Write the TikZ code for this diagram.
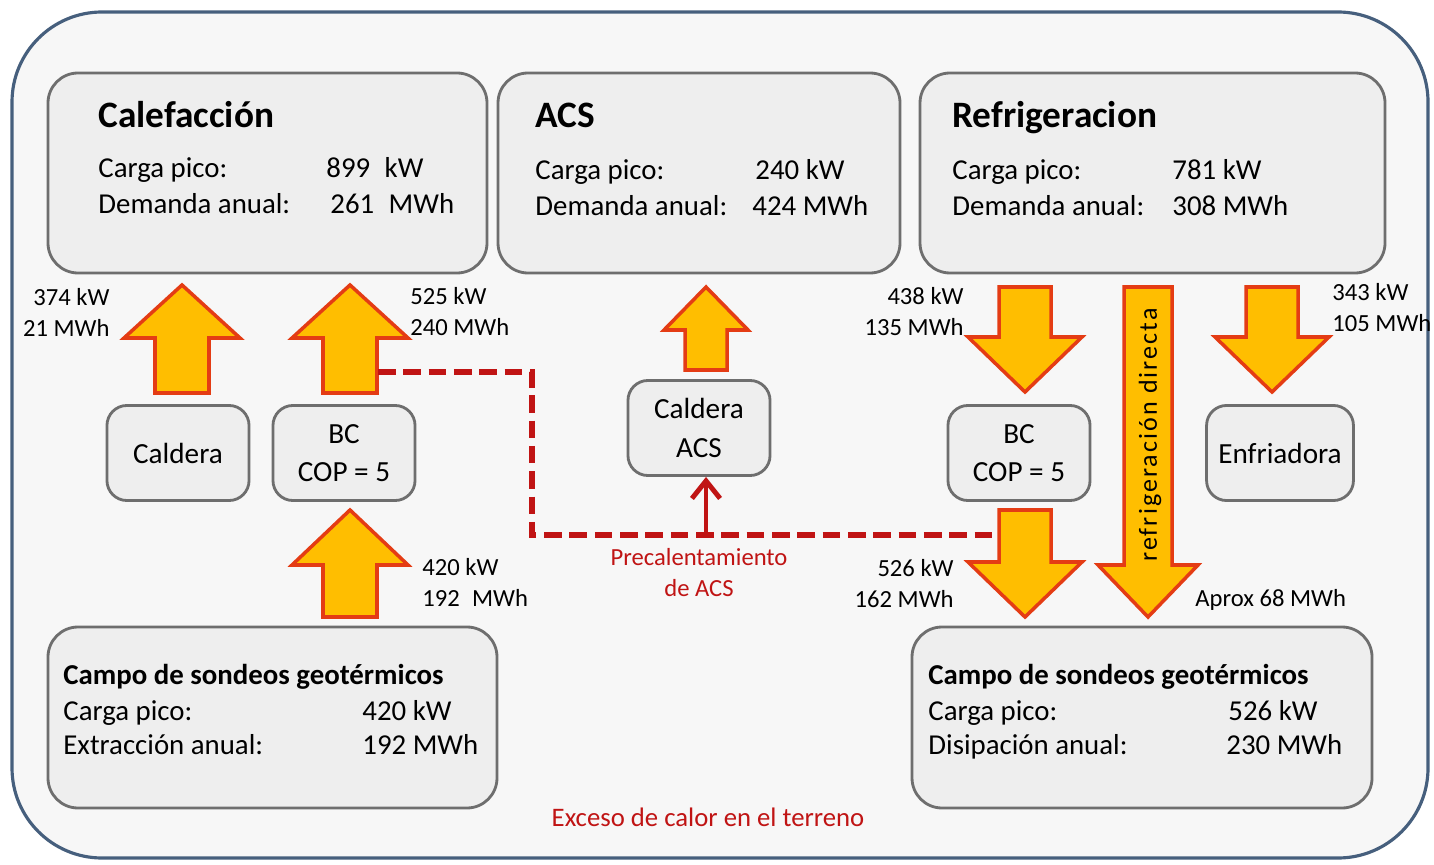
\documentclass[tikz,border=0pt]{standalone}
\usepackage{fontspec}
\setmainfont{Carlito}
\usepackage{tikz}
\usetikzlibrary{arrows.meta,calc}

\definecolor{frameblue}{RGB}{70,95,125}
\definecolor{boxgray}{RGB}{238,238,238}
\definecolor{boxline}{RGB}{110,110,110}
\definecolor{flowfill}{RGB}{255,190,0}
\definecolor{flowline}{RGB}{228,60,20}
\definecolor{darkred}{RGB}{192,20,20}

\tikzset{
  panel/.style={draw=boxline,fill=boxgray,line width=0.8pt,rounded corners=0.3cm},
  unit/.style={draw=boxline,fill=boxgray,line width=0.8pt,rounded corners=0.2cm,
    minimum width=1.42cm,minimum height=0.95cm,align=center,font=\fontsize{8.3}{11}\selectfont},
  flow/.style={draw=flowline,fill=flowfill,line width=1pt,line join=miter},
  title/.style={anchor=west,text height=0.75em,text depth=0.25em,font=\fontsize{10.6}{12}\selectfont\bfseries},
  subtitle/.style={anchor=west,text height=0.75em,text depth=0.25em,font=\fontsize{8.2}{10}\selectfont\bfseries},
  row/.style={anchor=west,text height=0.75em,text depth=0.25em,font=\fontsize{8.2}{10}\selectfont},
  lbl/.style={font=\fontsize{7}{8.8}\selectfont,align=left},
  redtxt/.style={text=darkred,align=center},
  pre/.style={draw=darkred,line width=1.6pt,dash pattern=on 5pt off 2.2pt}
}

% block arrow: x, tail y, head base y, tip y, shaft half width, head half width
\newcommand{\blockarrow}[6]{%
  \draw[flow] ({#1-#5},#2) -- ({#1-#5},#3) -- ({#1-#6},#3) -- (#1,#4)
    -- ({#1+#6},#3) -- ({#1+#5},#3) -- ({#1+#5},#2) -- cycle;}

\begin{document}
\begin{tikzpicture}[x=0.01cm,y=-0.01cm]
		\useasboundingbox (0,0) rectangle (1434,864);
		% Frame
		\draw[draw=frameblue,fill=black!3,line width=0.9pt,rounded corners=0.9cm] (12,12) rectangle (1428,858);

		% Demand panels
		\draw[panel] (48,73) rectangle (487,273);
		\node[title] (calef) at (86,119) {Calefacción};
		\node[row] at (86,169) {Carga pico:};
		\node[row] at (314,169) {899\enspace kW};
		\node[row] at (86,205) {Demanda anual:};
		\node[row] at (318,205) {261\enspace MWh};

		\draw[panel] (498,73) rectangle (900,273);
		\node[title] (acs) at (523,119) {ACS};
		\node[row] at (523,171) {Carga pico:};
		\node[row] at (743,171) {240 kW};
		\node[row] at (523,207) {Demanda anual:};
		\node[row] at (740,207) {424 MWh};

		\draw[panel] (920,73) rectangle (1385,273);
		\node[title] (refri) at (940,119) {Refrigeracion};
		\node[row] at (940,171) {Carga pico:};
		\node[row] at (1160,171) {781 kW};
		\node[row] at (940,207) {Demanda anual:};
		\node[row] at (1160,207) {308 MWh};

		% Ground fields
		\draw[panel] (48,627) rectangle (497,808);
		\node[subtitle] (campoA) at (51,676) {Campo de sondeos geotérmicos};
		\node[row] at (51,712) {Carga pico:};
		\node[row] at (350,712) {420 kW};
		\node[row] at (51,746) {Extracción anual:};
		\node[row] at (350,746) {192 MWh};

		\draw[panel] (912,627) rectangle (1372,808);
		\node[subtitle] (campoB) at (916,676) {Campo de sondeos geotérmicos};
		\node[row] at (916,712) {Carga pico:};
		\node[row] at (1216,712) {526 kW};
		\node[row] at (916,746) {Disipación anual:};
		\node[row] at (1214,746) {230 MWh};

		% Plant
		\node[unit] (caldera) at (178,453) {Caldera};
		\node[unit] (bcA) at (344,453) {BC\\COP = 5};
		\node[unit] (caldacs) at (699,428) {Caldera\\ACS};
		\node[unit] (bcB) at (1019,453) {BC\\COP = 5};
		\node[unit] (enfri) at (1280,453) {Enfriadora};

		% Heat flows
		\blockarrow{182}{393}{338}{285}{27}{58}
		\blockarrow{350}{393}{338}{285}{27}{58}
		\blockarrow{350}{617}{565}{510}{27}{58}
		\blockarrow{706}{370}{330}{287}{21}{42}
		\blockarrow{1025}{287}{337}{392}{26}{57}
		\blockarrow{1272}{287}{337}{392}{26}{57}
		\blockarrow{1025}{510}{562}{617}{26}{57}
		\blockarrow{1148}{287}{565}{617}{24}{50}
		\node[rotate=90,font=\fontsize{7.4}{9}\selectfont\addfontfeature{LetterSpace=8}] (directa) at (1150,435) {refrigeración directa};

		\node[lbl,anchor=east,align=right] at (122,312) {374 kW\\21 MWh};
		\node[lbl,anchor=west] at (398,312) {525 kW\\240 MWh};
		\node[lbl,anchor=west] at (410,582) {420 kW\\192\enspace MWh};
		\node[lbl,anchor=east,align=right] at (976,312) {438 kW\\135 MWh};
		\node[lbl,anchor=west] at (1320,308) {343 kW\\105 MWh};
		\node[lbl,anchor=east,align=right] at (966,584) {526 kW\\162 MWh};
		\node[lbl,anchor=west] at (1183,600) {Aprox 68 MWh};

		% Preheating of ACS
		\coordinate (outA) at (378,372);
		\coordinate (inB) at (998,535);
		\coordinate (tap) at (706,535);
		\draw[pre] (outA) -- (532,372) -- (532,535) -- (inB);
		\draw[darkred,line width=1.4pt,-{Straight Barb[length=5pt,width=8pt]}] (tap) -- (tap |- caldacs.south);
		\node[lbl,redtxt] (precal) at (699,573) {Precalentamiento\\de ACS};

		\node[redtxt,font=\fontsize{7.6}{9}\selectfont] (exceso) at (708,817) {Exceso de calor en el terreno};
	\end{tikzpicture}
\end{document}
